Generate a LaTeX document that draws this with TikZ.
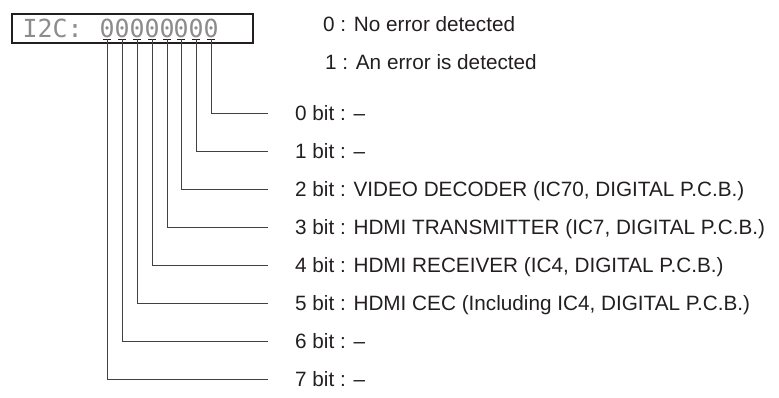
\documentclass[tikz,border=0pt]{standalone}
\usepackage{fontspec}
\setmainfont{Liberation Sans}
\newfontfamily\lcdfont{DejaVu Sans Mono}
\usepackage{xcolor}
\definecolor{ink}{HTML}{231F20}
\definecolor{lcd}{HTML}{8C8C8C}

\begin{document}
\begin{tikzpicture}[x=1bp, y=-1bp,
  every node/.style={inner sep=0pt, text=ink,
    font=\fontsize{20.8}{24}\selectfont, text height=19.4bp, text depth=4.5bp},
  lcdtext/.style={font=\lcdfont\fontsize{25}{25}\selectfont, text=lcd,
    text height=, text depth=},
  bitlabel/.style={anchor=west},
  wire/.style={draw=ink!85, line width=0.9bp}]
\useasboundingbox (0,0) rectangle (779,397);
% display window
\draw[ink, line width=1.3bp] (12,14) rectangle (253,43);
\node[lcdtext, anchor=base west] (i2c) at (22.5,37) {I2C:};
% legend
\node[bitlabel] (err0) at (323,24) {0 : No error detected};
\node[bitlabel] (err1) at (325,62) {1 : An error is detected};
% bits
\foreach \i/\xx/\txt in {0/211/{0 bit : –},
    1/196/{1 bit : –},
    2/181/{2 bit : VIDEO DECODER (IC70, DIGITAL P.C.B.)},
    3/167/{3 bit : HDMI TRANSMITTER (IC7, DIGITAL P.C.B.)},
    4/152/{4 bit : HDMI RECEIVER (IC4, DIGITAL P.C.B.)},
    5/137/{5 bit : HDMI CEC (Including IC4, DIGITAL P.C.B.)},
    6/122/{6 bit : –},
    7/107/{7 bit : –}} {
  \node[lcdtext, anchor=base] (d\i) at (\xx,37) {0};
  \node[bitlabel] (b\i) at (295,113.5+38*\i) {\txt};
  \draw[ink, line width=1bp] ([xshift=-4bp, yshift=-2bp]d\i.base)
    -- ([xshift=4bp, yshift=-2bp]d\i.base);
  \draw[wire, shorten >=27bp] ([yshift=-2bp]d\i.base) |- (b\i.west);
}
\end{tikzpicture}
\end{document}
